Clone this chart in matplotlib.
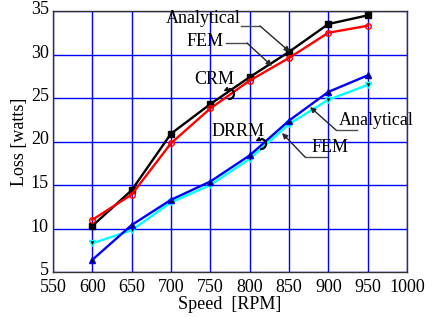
import numpy as np
import matplotlib
matplotlib.use('Agg')
import matplotlib.pyplot as plt
from matplotlib.patches import Arc
from matplotlib.transforms import ScaledTranslation

plt.rcParams['font.family'] = ['Liberation Serif', 'DejaVu Serif']

# data
speed = [600, 650, 700, 750, 800, 850, 900, 950]
crm_analytical = [10.3, 14.4, 20.9, 24.3, 27.4, 30.3, 33.5, 34.5]
crm_fem = [11.0, 13.9, 19.8, 23.8, 27.0, 29.6, 32.5, 33.3]
drrm_analytical = [6.4, 10.4, 13.3, 15.4, 18.4, 22.4, 25.7, 27.6]
drrm_fem = [8.3, 9.8, 13.0, 15.0, 18.0, 22.0, 24.8, 26.5]

x_ticks = [550, 600, 650, 700, 750, 800, 850, 900, 950, 1000]
y_ticks = [5, 10, 15, 20, 25, 30, 35]

fig = plt.figure(figsize=(4.34, 3.17), dpi=100)
ax = fig.add_axes([53/434, 45/317, 354/434, 261/317])

ax.plot(speed, crm_analytical, color='black', lw=1.7, marker='s', ms=4,
        mfc='black', mec='black', zorder=4)
ax.plot(speed, crm_fem, color='red', lw=1.7, marker='o', ms=4,
        mfc='none', mec='red', zorder=4)
ax.plot(speed, drrm_analytical, color='blue', lw=1.7, marker='^', ms=5,
        mfc='black', mec='blue', zorder=4)
ax.plot(speed, drrm_fem, color='cyan', lw=1.7, marker='v', ms=5,
        mfc='black', mec='cyan', zorder=3)

ax.set_xlim(550, 1000)
ax.set_ylim(5, 35)
ax.set_xticks(x_ticks)
ax.set_yticks(y_ticks)
ax.tick_params(length=0, labelsize=13)
ax.tick_params(axis='x', pad=5)
ax.tick_params(axis='y', pad=3)
# y tick labels sit a little above their grid lines in the reference
shift = ScaledTranslation(0, 3.5 / 100, fig.dpi_scale_trans)
for lab in ax.get_yticklabels():
    lab.set_transform(lab.get_transform() + shift)
ax.grid(True, color='blue', lw=1)
ax.set_axisbelow(True)
for s in ax.spines.values():
    s.set_color('0.2')
    s.set_linewidth(1)

ax.set_xlabel('Speed  [RPM]', fontsize=13, labelpad=0)
ax.set_ylabel('Loss [watts]', fontsize=13, labelpad=2)

# unit sizes of one reference pixel in data coords
PX_X = 450 / 354
PX_Y = 30 / 261


def px(x, y):
    # reference pixel position -> data coords
    return (550 + (x - 53) * PX_X, 35 - (y - 11) * PX_Y)


def leader(text, tx, ty, pts):
    ax.text(*px(tx, ty), text, fontsize=13, ha='center', va='center')
    xs = [px(*p)[0] for p in pts]
    ys = [px(*p)[1] for p in pts]
    ax.plot(xs[:-1], ys[:-1], color='0.3', lw=1, zorder=5)
    ax.annotate('', xy=(xs[-1], ys[-1]), xytext=(xs[-2], ys[-2]),
                arrowprops=dict(arrowstyle='-|>', color='0.15', lw=1,
                                mutation_scale=8, shrinkA=0, shrinkB=0),
                zorder=5)


leader('Analytical', 203, 18, [(241, 26), (260, 26), (290, 52)])
leader('FEM', 205, 42, [(226, 43), (247, 43), (272, 66)])
leader('Analytical', 376, 120, [(357, 130), (336, 130), (310, 107)])
leader('FEM', 330, 147, [(327, 157), (305, 157), (282, 133)])

ax.text(*px(214, 79), 'CRM', fontsize=13, ha='center', va='center')
ax.text(*px(238, 131), 'DRRM', fontsize=13, ha='center', va='center')

# small curved arrows (open on the left) under the group labels
r = 5
for cx, cy in [(229, 94), (261, 144)]:
    c = px(cx, cy)
    ax.add_patch(Arc(c, 2 * r * PX_X, 2 * r * PX_Y, theta1=-150, theta2=120,
                     color='black', lw=1.6, zorder=6))
    t = np.deg2rad(120)
    end = (c[0] + r * np.cos(t) * PX_X, c[1] + r * np.sin(t) * PX_Y)
    tip = (end[0] - 3 * PX_X, end[1] - 1.5 * PX_Y)
    ax.annotate('', xy=tip, xytext=end,
                arrowprops=dict(arrowstyle='-|>', color='black', lw=1,
                                mutation_scale=6, shrinkA=0, shrinkB=0),
                zorder=6)

fig.savefig('out.png', dpi=100)
